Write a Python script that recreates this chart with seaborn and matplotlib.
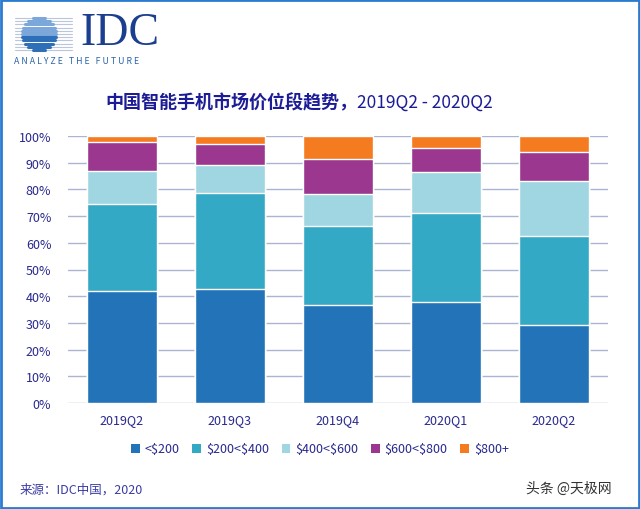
import numpy as np
import pandas as pd
import matplotlib
matplotlib.use("Agg")
import matplotlib.pyplot as plt
from matplotlib.patches import Patch, Rectangle
from matplotlib.lines import Line2D
import seaborn as sns

quarters = ["2019Q2", "2019Q3", "2019Q4", "2020Q1", "2020Q2"]
segments = ["<$200", "$200<$400", "$400<$600", "$600<$800", "$800+"]
# share of shipments (%) per price band
under_200 = [42.0, 42.6, 36.7, 37.9, 29.3]
from_200_400 = [32.7, 35.9, 29.7, 33.1, 33.1]
from_400_600 = [12.3, 10.8, 11.9, 15.4, 20.9]
from_600_800 = [10.6, 7.6, 13.1, 9.2, 10.8]
over_800 = [2.4, 3.1, 8.6, 4.4, 5.9]
colors = ["#2373b9", "#34a9c5", "#a0d5e2", "#9b378f", "#f57b20"]
yticks = [0, 10, 20, 30, 40, 50, 60, 70, 80, 90, 100]

sns.set_style("white")
plt.rcParams["font.family"] = ["Noto Sans CJK SC", "DejaVu Sans"]
navy = "#28288f"

shares = np.array([under_200, from_200_400, from_400_600, from_600_800, over_800])
tops = np.cumsum(shares, axis=0)

fig = plt.figure(figsize=(6.4, 5.1), dpi=100)
ax = fig.add_axes([68 / 640, 1 - 404 / 510, 540 / 640, 267 / 510])

# stacked bars: draw cumulative tops from the highest layer down
for i in range(len(segments) - 1, -1, -1):
    df = pd.DataFrame({"quarter": quarters, "top": tops[i]})
    sns.barplot(data=df, x="quarter", y="top", color=colors[i], width=0.64,
                saturation=1, ax=ax, zorder=3)

ax.set_ylim(0, 100)
ax.set_xlim(-0.5, 4.5)
ax.set_yticks(yticks)
ax.set_yticklabels([f"{t}%" for t in yticks])
ax.grid(axis="y", color="#aab4d4", linewidth=1, zorder=0)
ax.set_axisbelow(True)
for s in ax.spines.values():
    s.set_visible(False)
ax.tick_params(axis="both", length=0, labelsize=9, labelcolor=navy)
ax.tick_params(axis="y", pad=12)
ax.tick_params(axis="x", pad=7)
ax.set_xlabel("")
ax.set_ylabel("")

handles = [Patch(facecolor=c, edgecolor="none") for c in colors]
labels = [s.replace("$", r"\$") for s in segments]
ax.legend(handles, labels, loc="center", bbox_to_anchor=(0.5, 1 - 450 / 510),
          bbox_transform=fig.transFigure, ncol=5, frameon=False, fontsize=9,
          handlelength=0.7, handleheight=0.7, handletextpad=0.4, columnspacing=1.0,
          labelcolor=navy)

# title
fig.text(357 / 640, 1 - 103 / 510, "中国智能手机市场价位段趋势，", ha="right", va="center",
         fontsize=13, fontweight="bold", color="#1c1c96")
fig.text(357 / 640, 1 - 103 / 510, "2019Q2 - 2020Q2", ha="left", va="center",
         fontsize=12.5, color="#1c1c96")

# source and watermark
fig.text(20 / 640, 1 - 490 / 510, "来源：IDC中国，2020", ha="left", va="center",
         fontsize=9, color="#3b3ba5")
fig.text(612 / 640, 1 - 489 / 510, "头条 @天极网", ha="right", va="center",
         fontsize=10, color="#333333")

# IDC logo
fig.text(80 / 640, 1 - 34 / 510, "IDC", ha="left", va="center", fontsize=33,
         family="Liberation Serif", color="#1b3f8e")
fig.text(14 / 640, 1 - 62 / 510, "A N A L Y Z E   T H E   F U T U R E", ha="left",
         va="center", fontsize=6.3, color="#2a64a8")
lax = fig.add_axes([0, 1 - 56 / 510, 80 / 640, 44 / 510])
lax.set_xlim(0, 80)
lax.set_ylim(56, 12)
lax.axis("off")
for yy in np.arange(19, 52, 3.2):
    dy = abs(yy - 35)
    half = np.sqrt(max(17 ** 2 - dy ** 2, 0))
    lax.add_line(Line2D([15, 72], [yy, yy], color="#b9c7dc", linewidth=0.8))
    shade = "#2f6fb8" if yy > 35 else "#7ba7da"
    lax.add_line(Line2D([39 - half, 39 + half], [yy, yy], color=shade, linewidth=2.2))

# blue frame
fig.add_artist(Rectangle((0.002, 0.002), 0.996, 0.996, transform=fig.transFigure,
                         fill=False, edgecolor="#2b7bd0", linewidth=2))

fig.savefig("out.png", dpi=100)
